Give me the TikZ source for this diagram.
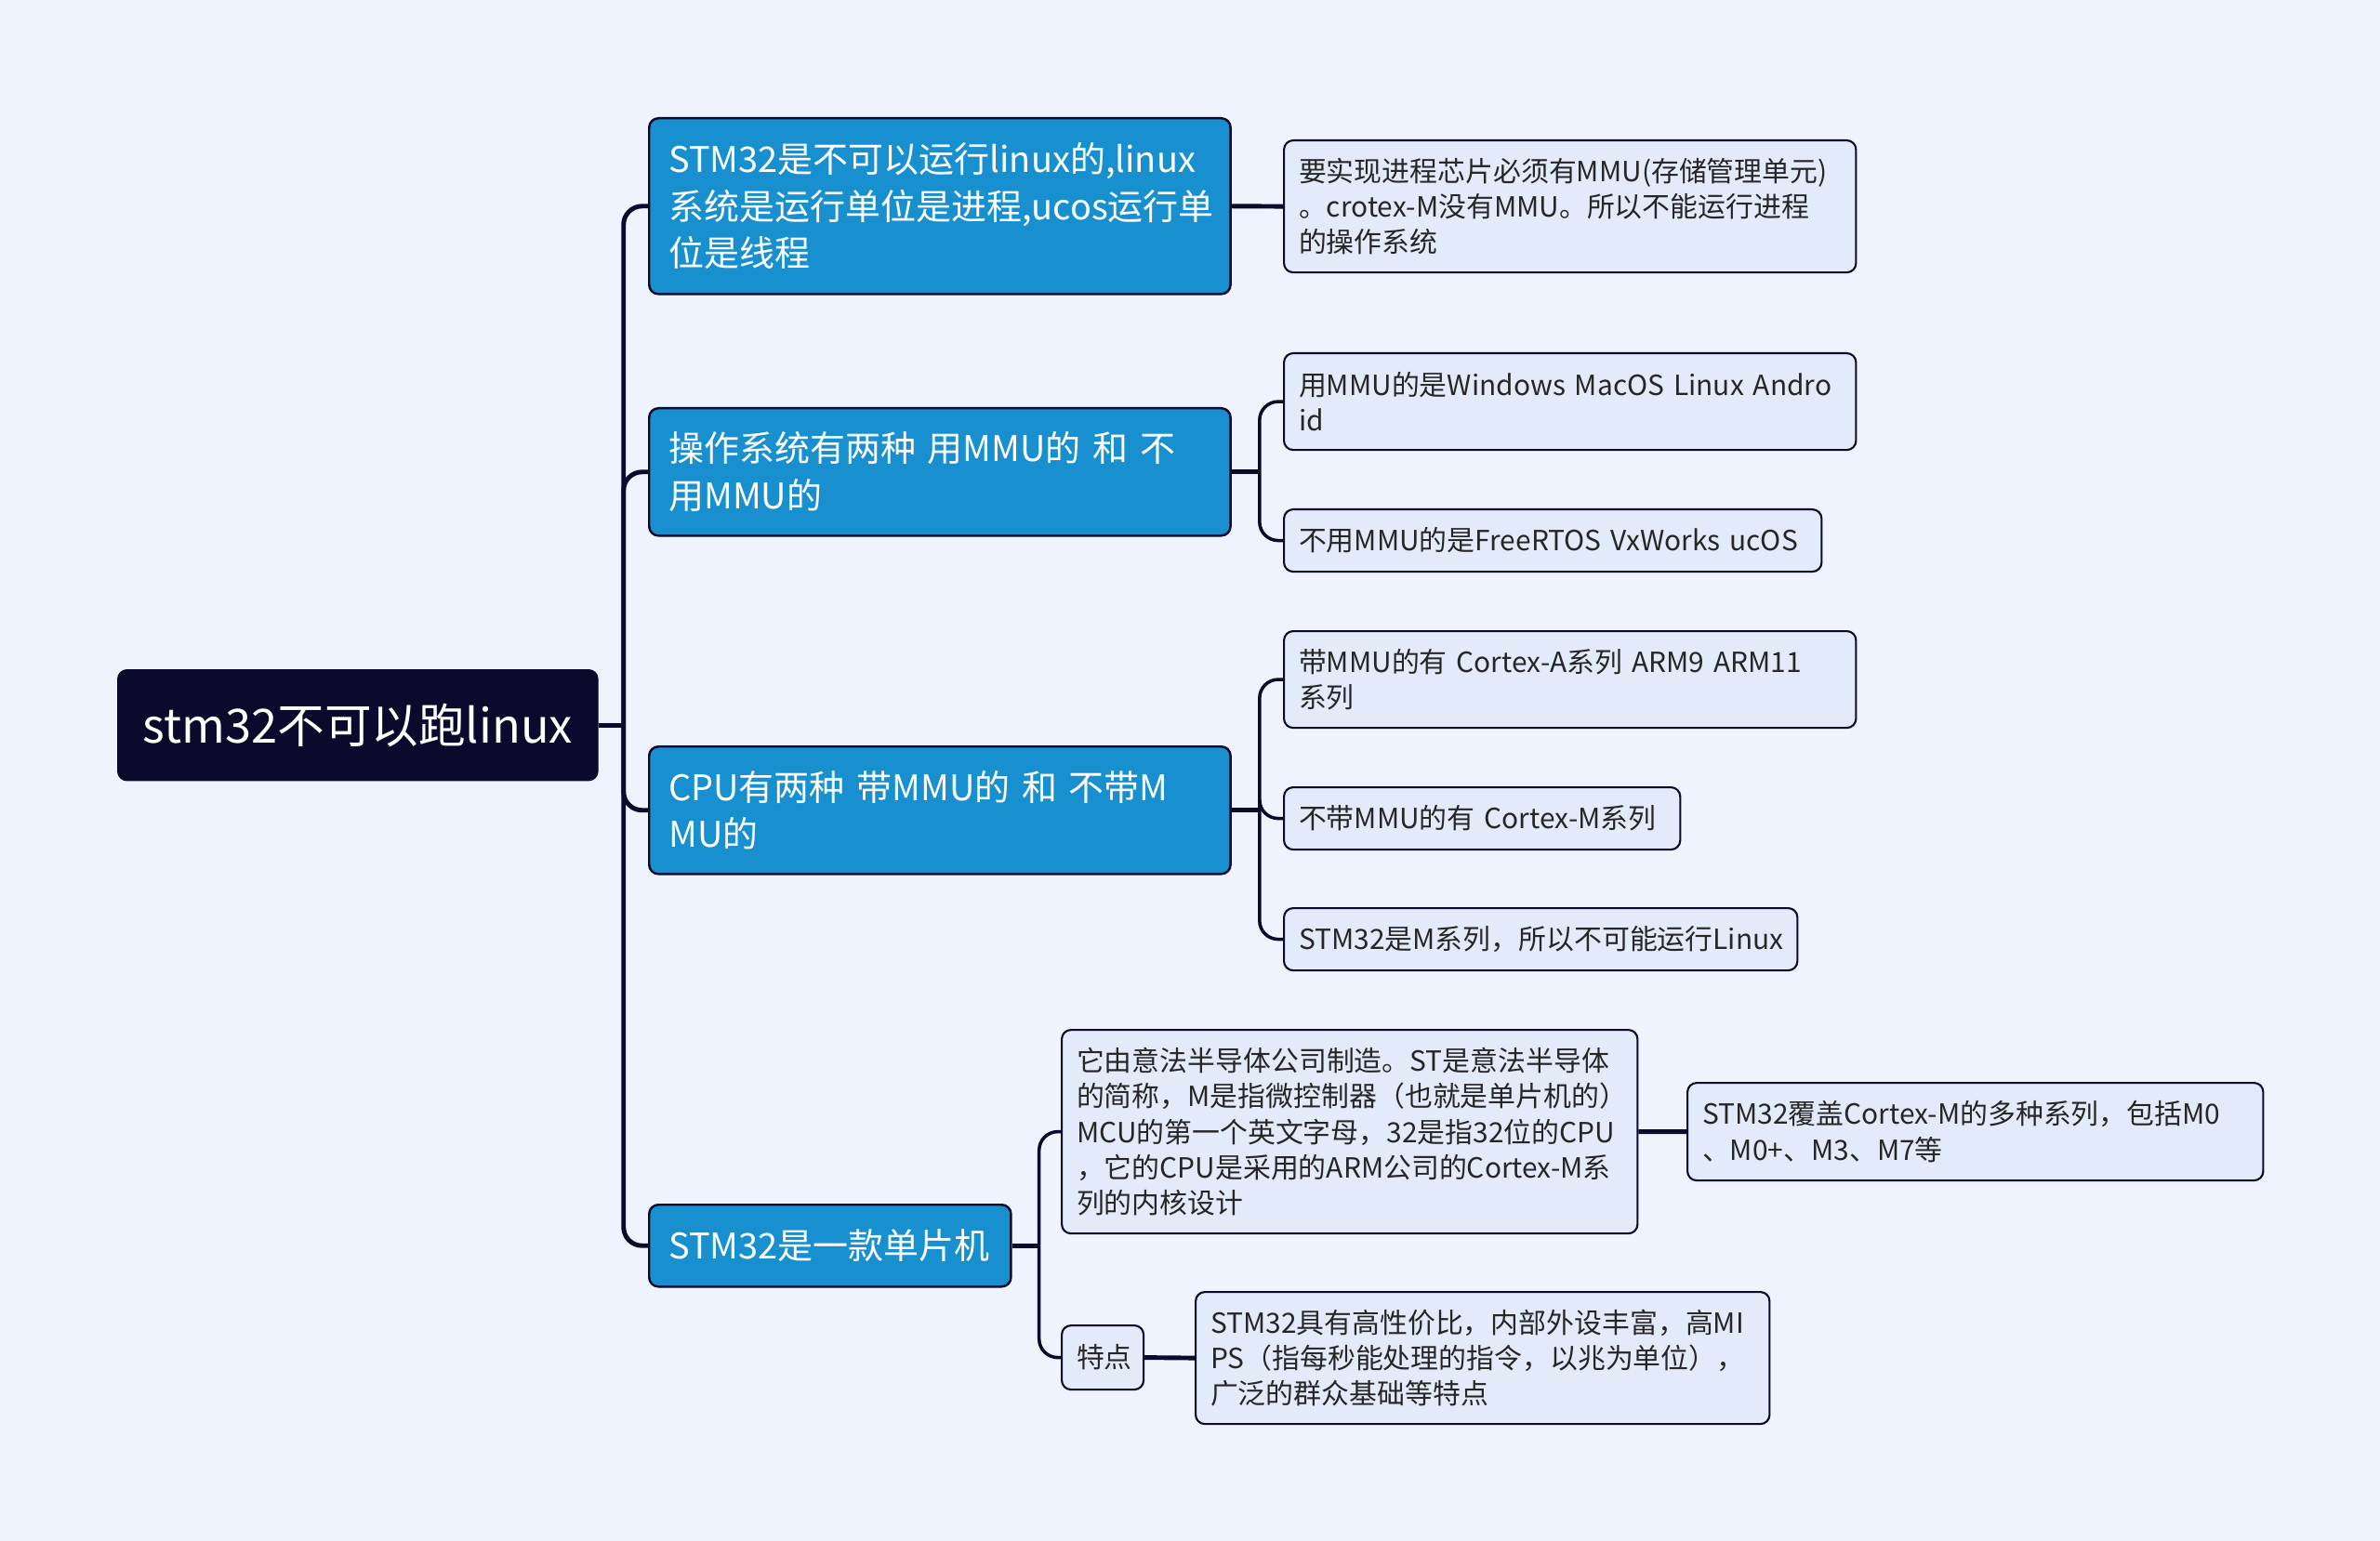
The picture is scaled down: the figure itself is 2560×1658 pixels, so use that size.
\documentclass[tikz,border=0pt]{standalone}
\usepackage{fontspec}
\setmainfont{Noto Sans CJK SC}
\usetikzlibrary{positioning}

\definecolor{bgblue}{HTML}{EEF3FD}
\definecolor{navy}{HTML}{0C0A2C}
\definecolor{topicblue}{HTML}{1890D0}
\definecolor{leaffill}{HTML}{E3EBFA}

\tikzset{
  rootnode/.style={draw=navy, fill=navy, text=white, rounded corners=0.1cm, anchor=north west,
    inner xsep=0.15cm, inner ysep=0, align=center, font=\fontsize{14.4pt}{18pt}\selectfont},
  topicnode/.style={draw=navy, line width=0.7pt, fill=topicblue, text=white, rounded corners=0.1cm,
    anchor=north west, inner xsep=0.21cm, inner ysep=0, align=left, font=\fontsize{10.8pt}{14.4pt}\selectfont},
  leafnode/.style={draw=navy, line width=0.6pt, fill=leaffill, text=black!85, rounded corners=0.1cm,
    anchor=north west, inner xsep=0.16cm, inner ysep=0, align=left, font=\fontsize{8.5pt}{10.9pt}\selectfont},
  link/.style={draw=navy, line width=1pt, rounded corners=0.2cm},
  trunk/.style={link, line width=1.4pt}
}

\begin{document}
\begin{tikzpicture}[x=0.01cm, y=-0.01cm]
  % Background
  \fill[bgblue] (0,0) rectangle (2560,1658);
  \useasboundingbox (0,0) rectangle (2560,1658);

  % Central topic
  \node[rootnode, minimum width=5.16cm, minimum height=1.19cm] (root) at (126,720) {stm32不可以跑linux};

  % Main topics
  \node[topicnode, text width=5.83cm, minimum height=1.89cm] (m1) at (697,126)
    {STM32是不可以运行linux的,linux\\系统是运行单位是进程,ucos运行单\\位是线程};
  \node[topicnode, text width=5.83cm, minimum height=1.37cm] (m2) at (697,438)
    {操作系统有两种 用MMU的 和 不\\用MMU的};
  \node[topicnode, text width=5.83cm, minimum height=1.37cm] (m3) at (697,802)
    {CPU有两种 带MMU的 和 不带M\\MU的};
  \node[topicnode, text width=3.47cm, minimum height=0.88cm] (m4) at (697,1295)
    {STM32是一款单片机};

  % Subtopics
  \node[leafnode, text width=5.83cm, minimum height=1.42cm] (a) at (1380,150)
    {要实现进程芯片必须有MMU(存储管理单元)\\。crotex-M没有MMU。所以不能运行进程\\的操作系统};
  \node[leafnode, text width=5.83cm, minimum height=1.04cm] (b) at (1380,379)
    {用MMU的是Windows MacOS Linux Andro\\id};
  \node[leafnode, text width=5.46cm, minimum height=0.67cm] (c) at (1380,547)
    {不用MMU的是FreeRTOS VxWorks ucOS};
  \node[leafnode, text width=5.83cm, minimum height=1.04cm] (d) at (1380,678)
    {带MMU的有 Cortex-A系列 ARM9 ARM11\\系列};
  \node[leafnode, text width=3.94cm, minimum height=0.67cm] (e) at (1380,846)
    {不带MMU的有 Cortex-M系列};
  \node[leafnode, text width=5.20cm, minimum height=0.67cm] (f) at (1380,976)
    {STM32是M系列，所以不可能运行Linux};
  \node[leafnode, text width=5.87cm, minimum height=2.19cm] (g) at (1141,1107)
    {它由意法半导体公司制造。ST是意法半导体\\的简称，M是指微控制器（也就是单片机的）\\MCU的第一个英文字母，32是指32位的CPU\\，它的CPU是采用的ARM公司的Cortex-M系\\列的内核设计};
  \node[leafnode, text width=0.56cm, minimum height=0.69cm] (h) at (1141,1425) {特点};
  \node[leafnode, text width=5.87cm, minimum height=1.05cm] (i) at (1814,1164)
    {STM32覆盖Cortex-M的多种系列，包括M0\\、M0+、M3、M7等};
  \node[leafnode, text width=5.85cm, minimum height=1.42cm] (j) at (1285,1389)
    {STM32具有高性价比，内部外设丰富，高MI\\PS（指每秒能处理的指令，以兆为单位），\\广泛的群众基础等特点};

  % Connectors from the central topic
  \draw[trunk, rounded corners=0] (root.east) -- ++(27,0) coordinate (rootfork);
  \foreach \m in {m1,m2,m3,m4}
    \draw[trunk] (rootfork) |- (\m.west);

  % Connectors to subtopics
  \draw[trunk] (m1.east) -- (a.west);
  \draw[trunk, rounded corners=0] (m2.east) -- ++(30,0) coordinate (fork2);
  \foreach \s in {b,c}
    \draw[link] (fork2) |- (\s.west);
  \draw[trunk, rounded corners=0] (m3.east) -- ++(30,0) coordinate (fork3);
  \foreach \s in {d,e,f}
    \draw[link] (fork3) |- (\s.west);
  \draw[trunk, rounded corners=0] (m4.east) -- ++(29,0) coordinate (fork4);
  \foreach \s in {g,h}
    \draw[link] (fork4) |- (\s.west);
  \draw[trunk] (g.east) -- (i.west);
  \draw[trunk] (h.east) -- (j.west);
\end{tikzpicture}
\end{document}
